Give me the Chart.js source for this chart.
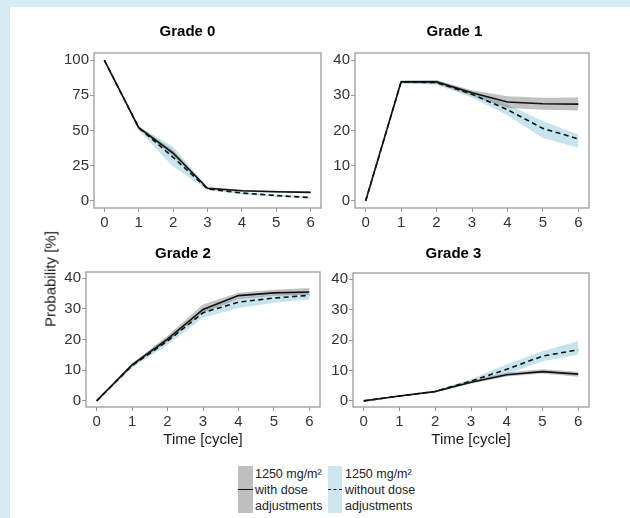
<!DOCTYPE html>
<html>
<head>
<meta charset="utf-8">
<script src="https://cdn.jsdelivr.net/npm/chart.js@4/dist/chart.umd.min.js"></script>
<style>
  html, body { margin: 0; padding: 0; }
  body { width: 630px; height: 518px; background: #d6ecf2; position: relative; overflow: hidden;
         font-family: "Liberation Sans", Arial, sans-serif; }
  #sheet { position: absolute; left: 10px; top: 7px; right: 0; bottom: 0; background: #fff; }
  canvas { position: absolute; }
  #ylab { position: absolute; left: 50px; top: 279px; transform: translate(-50%, -50%) rotate(-90deg);
          font-size: 15px; color: #1a1a1a; white-space: nowrap; }
  .key { position: absolute; width: 15px; top: 466px; height: 47px; }
  .key i { position: absolute; left: 0; right: 0; top: 23px; }
  .ktext { position: absolute; top: 466px; font-size: 12.5px; line-height: 16px; color: #222; }
</style>
</head>
<body>
<div id="sheet"></div>
<canvas id="g0" width="276" height="221" style="left:54px;top:14px"></canvas>
<canvas id="g1" width="278" height="221" style="left:320px;top:14px"></canvas>
<canvas id="g2" width="283" height="219" style="left:46px;top:236px"></canvas>
<canvas id="g3" width="280" height="219" style="left:318px;top:236px"></canvas>
<div id="ylab">Probability [%]</div>
<div class="key" style="left:238px;background:#bfbfbf"><i style="border-top:1.5px solid #111"></i></div>
<div class="ktext" style="left:255px">1250 mg/m²<br>with dose<br>adjustments</div>
<div class="key" style="left:328px;width:14px;background:#cce7ef"><i style="border-top:1.5px dashed #111"></i></div>
<div class="ktext" style="left:345px">1250 mg/m²<br>without dose<br>adjustments</div>
<script>
// time points (cycle)
const cycles = [0, 1, 2, 3, 4, 5, 6];
const pctTicks0 = [0, 25, 50, 75, 100];
const pctTicks = [0, 10, 20, 30, 40];

// Grade 0
const g0With = [100, 52, 34, 9, 7.2, 6.5, 6.1];
const g0WithLo = [100, 51, 32, 8.4, 6.6, 5.8, 5.4];
const g0WithHi = [100, 53, 36, 9.8, 7.9, 7.2, 6.8];
const g0Without = [100, 52, 31, 8.6, 5.6, 3.8, 2.4];
const g0WithoutLo = [100, 50, 24.5, 7.8, 4.6, 2.9, 1.6];
const g0WithoutHi = [100, 53, 38.5, 9.5, 6.4, 4.6, 3.2];

// Grade 1
const g1With = [0, 33.8, 33.8, 30.7, 28.1, 27.6, 27.5];
const g1WithLo = [0, 33.4, 33.3, 29.9, 26.4, 25.9, 25.7];
const g1WithHi = [0, 34.2, 34.3, 31.4, 29.7, 29.3, 29.4];
const g1Without = [0, 33.8, 33.6, 30.3, 25.9, 20.6, 17.6];
const g1WithoutLo = [0, 33.4, 33.0, 29.4, 24.3, 17.9, 15.1];
const g1WithoutHi = [0, 34.2, 34.3, 31.1, 27.4, 22.6, 18.9];

// Grade 2
const g2With = [0, 11.7, 20.1, 29.8, 34.3, 35.2, 35.5];
const g2WithLo = [0, 11.2, 19.3, 28.7, 33.2, 34.3, 34.6];
const g2WithHi = [0, 12.2, 21.2, 31.4, 35.2, 36.2, 36.8];
const g2Without = [0, 11.5, 19.5, 28.7, 32.2, 33.5, 34.4];
const g2WithoutLo = [0, 10.8, 18.2, 27.1, 30.3, 32.0, 33.0];
const g2WithoutHi = [0, 12.3, 20.8, 29.8, 33.5, 34.6, 35.5];

// Grade 3
const g3With = [0, 1.6, 3.1, 6.1, 8.6, 9.6, 8.8];
const g3WithLo = [0, 1.4, 2.8, 5.6, 8.0, 9.0, 7.9];
const g3WithHi = [0, 1.8, 3.4, 6.6, 9.3, 10.4, 9.6];
const g3Without = [0, 1.6, 3.1, 6.5, 10.4, 14.7, 16.8];
const g3WithoutLo = [0, 1.4, 2.8, 6.0, 8.8, 13.0, 15.2];
const g3WithoutHi = [0, 1.8, 3.4, 7.2, 12.0, 16.3, 19.7];

Chart.defaults.font.family = '"Liberation Sans", Arial, sans-serif';
Chart.defaults.color = '#333';

const panelBorder = {
    id: 'panelBorder',
    afterDraw(chart) {
        const { ctx, chartArea: a } = chart;
        ctx.save();
        ctx.strokeStyle = '#9a9a9a';
        ctx.lineWidth = 1.3;
        ctx.strokeRect(a.left, a.top, a.right - a.left, a.bottom - a.top);
        ctx.restore();
    }
};

const pts = arr => arr.map((v, i) => ({ x: cycles[i], y: v }));

function drawPanel(id, title, s, opts) {
    const line = (data, dash) => ({
        data: pts(data), borderColor: '#111', borderWidth: 1.6, borderDash: dash,
        pointRadius: 0, fill: false, order: 0, tension: 0
    });
    const band = (data, color, target, order) => ({
        data: pts(data), borderColor: 'transparent', borderWidth: 0, pointRadius: 0,
        backgroundColor: color, fill: target === null ? false : { target: target }, order: order
    });
    new Chart(document.getElementById(id).getContext('2d'), {
        type: 'line',
        data: {
            datasets: [
                line(s.with, []),
                line(s.without, [5, 3.5]),
                band(s.withHi, 'rgba(120,120,120,0.45)', 3, 1),
                band(s.withLo, 'transparent', null, 1),
                band(s.withoutHi, 'rgba(173,216,230,0.7)', 5, 2),
                band(s.withoutLo, 'transparent', null, 2)
            ]
        },
        options: {
            responsive: false,
            animation: false,
            devicePixelRatio: 1,
            layout: { padding: { right: 9 } },
            plugins: {
                legend: { display: false },
                tooltip: { enabled: false },
                title: {
                    display: true, text: title, color: '#000',
                    font: { size: 15, weight: 'bold' },
                    padding: opts.titlePad
                }
            },
            scales: {
                x: {
                    type: 'linear', min: -0.3, max: 6.3,
                    afterBuildTicks: sc => { sc.ticks = cycles.map(v => ({ value: v })); },
                    afterFit: sc => { sc.height = opts.xHeight; },
                    grid: { drawOnChartArea: false, drawTicks: true, tickLength: 4, color: '#999' },
                    border: { display: false },
                    ticks: { font: { size: 15 }, padding: 2, maxRotation: 0, color: '#333' },
                    title: {
                        display: opts.xTitle, text: 'Time [cycle]', color: '#1a1a1a',
                        font: { size: 15 }, padding: { top: 0, bottom: 6 }
                    }
                },
                y: {
                    min: opts.yMin, max: opts.yMax,
                    afterBuildTicks: sc => { sc.ticks = opts.yTicks.map(v => ({ value: v })); },
                    afterFit: sc => { sc.width = opts.yWidth; },
                    grid: { drawOnChartArea: false, drawTicks: true, tickLength: 4, color: '#999' },
                    border: { display: false },
                    ticks: { font: { size: 15 }, padding: 1, color: '#333' }
                }
            }
        },
        plugins: [panelBorder]
    });
}

drawPanel('g0', 'Grade 0',
    { with: g0With, withLo: g0WithLo, withHi: g0WithHi, without: g0Without, withoutLo: g0WithoutLo, withoutHi: g0WithoutHi },
    { yMin: -5, yMax: 105, yTicks: pctTicks0, yWidth: 40, xHeight: 27, xTitle: false, titlePad: { top: 9, bottom: 12 } });
drawPanel('g1', 'Grade 1',
    { with: g1With, withLo: g1WithLo, withHi: g1WithHi, without: g1Without, withoutLo: g1WithoutLo, withoutHi: g1WithoutHi },
    { yMin: -2, yMax: 42, yTicks: pctTicks, yWidth: 35, xHeight: 27, xTitle: false, titlePad: { top: 9, bottom: 12 } });
drawPanel('g2', 'Grade 2',
    { with: g2With, withLo: g2WithLo, withHi: g2WithHi, without: g2Without, withoutLo: g2WithoutLo, withoutHi: g2WithoutHi },
    { yMin: -2, yMax: 42, yTicks: pctTicks, yWidth: 40, xHeight: 48, xTitle: true, titlePad: { top: 9, bottom: 9 } });
drawPanel('g3', 'Grade 3',
    { with: g3With, withLo: g3WithLo, withHi: g3WithHi, without: g3Without, withoutLo: g3WithoutLo, withoutHi: g3WithoutHi },
    { yMin: -2, yMax: 42, yTicks: pctTicks, yWidth: 35, xHeight: 48, xTitle: true, titlePad: { top: 9, bottom: 10 } });
</script>
</body>
</html>
